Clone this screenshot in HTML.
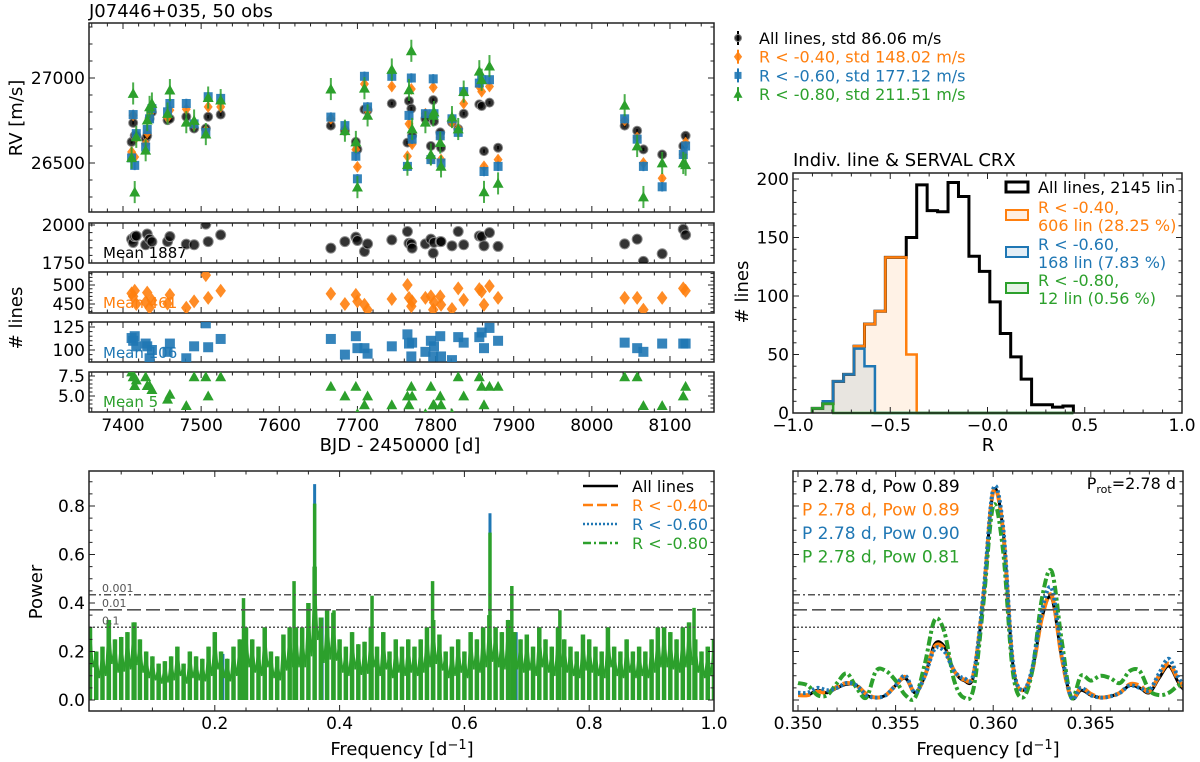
<!DOCTYPE html>
<html><head><meta charset="utf-8"><title>J07446+035 RV chart</title>
<style>
html,body{margin:0;padding:0;background:#fff;}
svg{display:block;font-family:"DejaVu Sans","Liberation Sans",sans-serif;}
</style></head>
<body>
<svg id="fig" width="1200" height="762" viewBox="0 0 1200 762" xmlns="http://www.w3.org/2000/svg">
<text x="89" y="17" font-size="18" fill="#000">J07446+035, 50 obs</text>
<text x="793" y="166" font-size="18" fill="#000">Indiv. line &amp; SERVAL CRX</text>
</svg>
<script>
// ---------------- DATA ----------------
const obsTime = [7411,7413,7415,7417,7429,7431,7434,7437,7457,7460,7481,7491,7506,7509,7525,
 7666,7684,7698,7700,7709,7713,7744,7764,7766,7769,7770,7787,7794,7797,7798,7806,7807,7821,7829,7836,7856,7859,7862,7869,7880,
 8042,8058,8066,8090,8117,8120];
const rvAll = [26624,26736,26660,26660,26644,26660,26760,26800,26752,26760,26772,26703,26703,26772,26785,
 26720,26690,26624,26580,26815,26810,26850,26620,26865,26820,26660,26760,26600,26870,26745,26680,26590,26740,26700,26790,26845,26835,26570,26855,26590,
 26720,26690,26580,26550,26600,26660];
const rvR40 = [26565,26781,26535,26650,26614,26677,26770,26810,26768,26811,26817,26723,26690,26830,26830,
 26760,26700,26579,26477,26965,26810,26950,26540,26730,26935,26610,26790,26520,26945,26790,26650,26520,26740,26700,26850,26950,26920,26480,26950,26520,
 26750,26650,26500,26410,26550,26620];
const rvR60 = [26530,26785,26486,26673,26594,26697,26760,26820,26801,26850,26850,26730,26680,26890,26880,
 26770,26720,26540,26407,27010,26830,27010,26480,26780,27000,26640,26790,26520,26995,26790,26660,26500,26760,26680,26920,26970,26990,26450,26990,26480,
 26760,26640,26480,26360,26550,26600];
const rvR80 = [26531,26909,26329,26654,26575,26752,26830,26850,26791,26929,26740,26750,26670,26885,26870,
 26935,26690,26624,26358,26940,26780,27050,26490,26930,27160,26700,26740,26550,26780,26800,26620,26480,26770,26700,26920,27040,26990,26330,27070,26380,
 26840,26600,26300,26500,26500,26490];
const errAll = 10, errR40 = 18, errR60 = 28, errR80 = 65;
const nAll = [1907,1885,1924,1928,1870,1941,1907,1890,1891,1924,1874,1870,2006,1891,1935,
 1848,1891,1920,1898,1826,1876,1902,1957,1880,1876,1848,1876,1907,1815,1885,1891,1891,1863,1957,1870,1928,1924,1863,1950,1859,
 1876,1907,1761,1811,1972,1935];
const nR40 = [478,470,485,450,455,480,440,460,451,474,440,457,526,466,485,
 477,450,474,457,448,435,463,500,466,444,457,466,470,435,454,470,448,437,491,461,489,483,448,497,466,
 466,466,435,466,491,485];
const nR60 = [113,110,115,104,107,104,91,100,98,107,91,104,129,103,112,
 112,95,115,102,102,96,104,117,107,93,108,98,110,93,104,115,93,89,114,108,114,119,102,124,110,
 108,102,98,107,107,107];
const nR80 = [8.0,7.4,6.3,7.0,7.4,6.3,6.3,5.8,4.6,5.2,3.8,7.4,7.4,5.0,7.4,
 6.2,5.0,6.2,2.8,3.9,5.0,3.9,5.0,3.9,6.2,5.0,2.8,6.2,3.9,3.9,5.0,3.9,2.8,7.4,5.0,7.4,6.2,3.9,6.2,6.2,
 7.4,7.4,3.8,3.8,5.0,6.2];
const meanLabels = ["Mean 1887","Mean 461","Mean 106","Mean 5"];
const rvLegend = ["All lines, std 86.06 m/s","R < -0.40, std 148.02 m/s","R < -0.60, std 177.12 m/s","R < -0.80, std 211.51 m/s"];

// histogram
const binStart = -0.901, binWidth = 0.0537;
const histAll = [4,8,27,33,57,76,87,133,133,150,195,173,172,197,185,134,121,95,68,48,29,7,7,5,6];
const histR40 = [4,8,27,33,57,76,87,133,133,50,0,0,0,0,0,0,0,0,0,0,0,0,0,0,0];
const histR60 = [4,10,27,33,55,40,0,0,0,0,0,0,0,0,0,0,0,0,0,0,0,0,0,0,0];
const histR80 = [4,8,0,0,0,0,0,0,0,0,0,0,0,0,0,0,0,0,0,0,0,0,0,0,0];
const histLegend = [["All lines, 2145 lin"],["R < -0.40,","606 lin (28.25 %)"],["R < -0.60,","168 lin (7.83 %)"],["R < -0.80,","12 lin (0.56 %)"]];

// full periodogram
const gridStep = 0.01;
const powR80Grid = [0.30,0.20,0.22,0.33,0.25,0.26,0.28,0.32,0.25,0.20,0.18,0.15,0.16,0.18,0.22,0.15,0.20,0.18,0.17,0.22,
 0.28,0.20,0.17,0.22,0.25,0.30,0.25,0.22,0.30,0.20,0.18,0.27,0.30,0.30,0.30,0.40,0.55,0.34,0.37,0.36,
 0.25,0.22,0.28,0.23,0.24,0.30,0.22,0.28,0.20,0.25,0.22,0.25,0.22,0.25,0.30,0.33,0.27,0.20,0.22,0.25,
 0.20,0.28,0.25,0.30,0.35,0.30,0.28,0.33,0.28,0.25,0.27,0.22,0.30,0.25,0.22,0.30,0.25,0.22,0.20,0.27,
 0.25,0.22,0.20,0.30,0.22,0.20,0.25,0.20,0.22,0.20,0.25,0.30,0.30,0.28,0.25,0.30,0.32,0.25,0.20,0.22,0.25];
const peakFreq = [0.031,0.072,0.246,0.327,0.360,0.391,0.452,0.549,0.641,0.676,0.753,0.968];
const peakPowR80 = [0.33,0.32,0.42,0.49,0.81,0.37,0.43,0.49,0.69,0.47,0.37,0.38];
const peakFreqR60 = [0.213,0.360,0.372,0.641,0.683];
const peakPowR60 = [0.19,0.89,0.34,0.77,0.28];
const fapLevels = [0.434,0.372,0.30];
const fapLabels = ["0.001","0.01","0.1"];
const lpLegend = ["All lines","R < -0.40","R < -0.60","R < -0.80"];

// zoomed periodogram
const zFreq0 = 0.3500, zStep = 0.0005;
const zAll = [0.02,0.02,0.04,0.03,0.05,0.065,0.06,0.02,0.01,0.02,0.06,0.09,0.03,0.10,0.23,0.22,0.12,0.08,0.10,0.42,0.86,0.70,0.15,0.04,0.12,0.34,0.42,0.18,0.01,0.04,0.02,0.01,0.015,0.03,0.06,0.05,0.03,0.09,0.14,0.07,0.02];
const zR40 = [0.02,0.02,0.035,0.03,0.055,0.07,0.06,0.025,0.01,0.02,0.06,0.095,0.03,0.10,0.22,0.21,0.12,0.085,0.11,0.43,0.86,0.70,0.15,0.04,0.12,0.34,0.43,0.18,0.01,0.05,0.025,0.01,0.015,0.03,0.065,0.06,0.035,0.10,0.15,0.08,0.03];
const zR60 = [0.03,0.03,0.05,0.04,0.05,0.07,0.06,0.02,0.01,0.02,0.06,0.10,0.03,0.10,0.21,0.20,0.12,0.09,0.11,0.44,0.87,0.72,0.16,0.04,0.13,0.37,0.46,0.20,0.01,0.05,0.02,0.01,0.015,0.03,0.06,0.05,0.04,0.11,0.17,0.09,0.04];
const zR80 = [0.07,0.06,0.02,0.02,0.07,0.11,0.05,0.01,0.12,0.12,0.08,0.02,0.01,0.15,0.33,0.28,0.08,0.01,0.05,0.40,0.80,0.62,0.12,0.01,0.12,0.42,0.53,0.25,0.01,0.10,0.08,0.10,0.09,0.07,0.12,0.12,0.04,0.02,0.03,0.06,0.07];
const zLabels = ["P 2.78 d, Pow 0.89","P 2.78 d, Pow 0.89","P 2.78 d, Pow 0.90","P 2.78 d, Pow 0.81"];

// ---------------- DRAWING ----------------
const C = {k:"#000000", o:"#ff7f0e", b:"#1f77b4", g:"#2ca02c"};
const svg = document.getElementById('fig');
const NS = "http://www.w3.org/2000/svg";
const TICK_FS = 17, LABEL_FS = 18;
function mk(tag, attrs, parent){
  const e = document.createElementNS(NS, tag);
  for (const k in attrs) e.setAttribute(k, attrs[k]);
  (parent||svg).appendChild(e);
  return e;
}
function txt(x,y,s,size,fill,anchor,parent){
  const t = mk('text',{x:x,y:y,'font-size':size,fill:fill||'#000','text-anchor':anchor||'start'},parent);
  t.textContent = s; return t;
}
function frame(x0,y0,x1,y1){
  const r = mk('rect',{x:x0,y:y0,width:x1-x0,height:y1-y0,fill:'none',stroke:'#222','stroke-width':1.5});
  
  
}
function xTicks(x0,x1,y0,y1,vmin,vmax,major,minor,map,labels,fmt,labelY){
  const g = mk('g',{stroke:'#222','stroke-width':1});
  
  
  const eps=1e-9;
  for (let v=Math.ceil(vmin/minor-eps)*minor; v<=vmax+eps; v+=minor){
    const x = map(v); if (x<x0-0.5||x>x1+0.5) continue;
    const isMaj = Math.abs(v/major-Math.round(v/major))<1e-6;
    const L = isMaj?6:3.5;
    mk('line',{x1:x,y1:y1,x2:x,y2:y1-L},g);
    mk('line',{x1:x,y1:y0,x2:x,y2:y0+L},g);
    if (isMaj && labels){
      const t = txt(x,labelY,fmt(v),TICK_FS,'#000','middle');
      
      
    }
  }
}
function yTicks(x0,x1,y0,y1,vmin,vmax,major,minor,map,labels,fmt){
  const g = mk('g',{stroke:'#222','stroke-width':1});
  
  
  const eps=1e-9;
  for (let v=Math.ceil(vmin/minor-eps)*minor; v<=vmax+eps; v+=minor){
    const y = map(v); if (y<y0-0.5||y>y1+0.5) continue;
    const isMaj = Math.abs(v/major-Math.round(v/major))<1e-6;
    const L = isMaj?6:3.5;
    mk('line',{x1:x0,y1:y,x2:x0+L,y2:y},g);
    mk('line',{x1:x1,y1:y,x2:x1-L,y2:y},g);
    if (isMaj && labels){
      const t = txt(x0-4,y+6,fmt(v),TICK_FS,'#000','end');
      
      
    }
  }
}
function marker(shape,x,y,s,color,parent){
  let e;
  if (shape==='o') e = mk('circle',{cx:x,cy:y,r:s,fill:color,'fill-opacity':0.8,stroke:'#888','stroke-width':1},parent);
  else if (shape==='d') e = mk('polygon',{points:`${x},${y-s} ${x+s*0.75},${y} ${x},${y+s} ${x-s*0.75},${y}`,fill:color,'fill-opacity':0.9},parent);
  else if (shape==='s') e = mk('rect',{x:x-s,y:y-s,width:2*s,height:2*s,fill:color,'fill-opacity':0.9},parent);
  else e = mk('polygon',{points:`${x},${y-s} ${x+s},${y+s*0.8} ${x-s},${y+s*0.8}`,fill:color},parent);
  return e;
}

// ===== RV panel =====
const RV = {x0:89,x1:714,y0:23,y1:212};
const tx = t => 123 + (t-7400)*0.7814;
const ry = v => 78 + (27000-v)*0.17;
frame(RV.x0,RV.y0,RV.x1,RV.y1);
xTicks(RV.x0,RV.x1,RV.y0,RV.y1,7340,8160,100,20,tx,false);
yTicks(RV.x0,RV.x1,RV.y0,RV.y1,26200,27330,500,100,ry,true,v=>String(v));
const yl = txt(0,0,'RV [m/s]',LABEL_FS,'#000','middle');
yl.setAttribute('transform','translate(22,118) rotate(-90)');



const rvSeries = [[rvAll,errAll,C.k,'o',4.5],[rvR40,errR40,C.o,'d',6],[rvR60,errR60,C.b,'s',4.5],[rvR80,errR80,C.g,'^',5.5]];
const rvNames = ['rv-all-lines','rv-r-040','rv-r-060','rv-r-080'];
rvSeries.forEach((s,si)=>{
  const g = mk('g',{});
  
  
  s[0].forEach((v,i)=>{
    const x = tx(obsTime[i]);
    const eb = mk('line',{x1:x,x2:x,y1:ry(v+s[1]),y2:ry(v-s[1]),stroke:s[2],'stroke-width':2,'stroke-opacity':0.85},g);
    
    
    const m = marker(s[3],x,ry(v),s[4],s[2],g);
    
    
  });
});
const legShapes = [['o',C.k,3.5],['d',C.o,5.5],['s',C.b,3.5],['^',C.g,4.5]];
rvLegend.forEach((s,i)=>{
  const y = 38 + i*18.7;
  const g = mk('g',{});
  
  
  mk('line',{x1:738,x2:738,y1:y-7,y2:y+7,stroke:legShapes[i][1],'stroke-width':2},g);
  marker(legShapes[i][0],738,y,legShapes[i][2],legShapes[i][1],g);
  txt(759,y+6,s,16,i===0?'#000':legShapes[i][1],'start',g);
});

// ===== sub panels (# lines) =====
const subs = [
  {y0:223,y1:263,map:v=>225+(2000-v)*(38/250),vmin:1740,vmax:2010,maj:250,min:50,data:nAll,c:C.k,sh:'o',s:5,fmt:v=>String(v),ly:258},
  {y0:272,y1:313,map:v=>285+(500-v)*0.38,vmin:420,vmax:540,maj:50,min:10,data:nR40,c:C.o,sh:'d',s:7,fmt:v=>String(v),ly:308},
  {y0:322,y1:362,map:v=>327+(125-v)*0.92,vmin:85,vmax:131,maj:25,min:5,data:nR60,c:C.b,sh:'s',s:5,fmt:v=>String(v),ly:358},
  {y0:372,y1:412,map:v=>376+(7.5-v)*8,vmin:2.5,vmax:8.2,maj:2.5,min:0.5,data:nR80,c:C.g,sh:'^',s:5.5,fmt:v=>v.toFixed(1),ly:407}
];
const subNames = ['nlines-all','nlines-r-040','nlines-r-060','nlines-r-080'];
subs.forEach((p,pi)=>{
  frame(RV.x0,p.y0,RV.x1,p.y1);
  xTicks(RV.x0,RV.x1,p.y0,p.y1,7340,8160,100,20,tx,pi===3,v=>String(v),431);
  yTicks(RV.x0,RV.x1,p.y0,p.y1,p.vmin,p.vmax,p.maj,p.min,p.map,true,p.fmt);
  const ml = txt(103,p.ly,meanLabels[pi],15,p.c,'start');
  
  
  const cp = mk('clipPath',{id:'clip'+pi});
  mk('rect',{x:RV.x0,y:p.y0,width:RV.x1-RV.x0,height:p.y1-p.y0},cp);
  const g = mk('g',{'clip-path':'url(#clip'+pi+')'});
  
  
  p.data.forEach((v,i)=>{
    const m = marker(p.sh,tx(obsTime[i]),p.map(v),p.s,p.c,g);
    
    
  });
});
const nl = txt(0,0,'# lines',LABEL_FS,'#000','middle');
nl.setAttribute('transform','translate(22,318) rotate(-90)');


const bx = txt(400,451,'BJD - 2450000 [d]',LABEL_FS,'#000','middle');



// ===== Histogram =====
const H = {x0:793,x1:1182,y0:173,y1:413};
const hx = r => 793 + (r+1)*194.5;
const hy = c => 413 - c*1.17;
function stepPath(counts, closeFill){
  let d = `M${hx(binStart)},${hy(0)}`;
  counts.forEach((c,i)=>{
    const a = binStart+i*binWidth, b = a+binWidth;
    d += ` L${hx(a)},${hy(c)} L${hx(b)},${hy(c)}`;
  });
  d += ` L${hx(binStart+counts.length*binWidth)},${hy(0)}`;
  if (closeFill) d += ' Z';
  return d;
}
const histSet = [[histR40,C.o,'hist-r-040'],[histR60,C.b,'hist-r-060'],[histR80,C.g,'hist-r-080']];
histSet.forEach(h=>{
  const f = mk('path',{d:stepPath(h[0],true),fill:h[1],'fill-opacity':0.1,stroke:'none'});
  
  
});
const ha = mk('path',{d:stepPath(histAll,false),fill:'none',stroke:'#000','stroke-width':3});


histSet.forEach(h=>{
  const p = mk('path',{d:stepPath(h[0],false),fill:'none',stroke:h[1],'stroke-width':2.5});
  
  
});
frame(H.x0,H.y0,H.x1,H.y1);
xTicks(H.x0,H.x1,H.y0,H.y1,-1,1,0.5,0.1,hx,true,v=>{const s=v.toFixed(1);return s.replace('-','\u2212');},431);
yTicks(H.x0,H.x1,H.y0,H.y1,0,205,50,10,hy,true,v=>String(Math.round(v)));
const hyl = txt(0,0,'# lines',LABEL_FS,'#000','middle');
hyl.setAttribute('transform','translate(748,292) rotate(-90)');


const hxl = txt(988,451,'R',LABEL_FS,'#000','middle');


const hlCol = [C.k,C.o,C.b,C.g];
const hlY = [187,215,252,288];
histLegend.forEach((lines,i)=>{
  const g = mk('g',{});
  
  
  const y = hlY[i];
  mk('rect',{x:1006,y:y-5,width:22,height:10,fill:i===0?'none':hlCol[i],'fill-opacity':0.12,stroke:hlCol[i],'stroke-width':i===0?3:2},g);
  if (lines.length===1) txt(1038,y+6,lines[0],16,hlCol[i],'start',g);
  else { txt(1038,y-2,lines[0],16,hlCol[i],'start',g); txt(1038,y+16,lines[1],16,hlCol[i],'start',g); }
});

// ===== Full periodogram =====
const L = {x0:89,x1:714,y0:471,y1:711};
const px = f => 90 + f*624;
const py = p => 700 - p*242.5;
const cpl = mk('clipPath',{id:'clipL'});
mk('rect',{x:L.x0,y:L.y0,width:L.x1-L.x0,height:L.y1-L.y0},cpl);
const lg = mk('g',{'clip-path':'url(#clipL)'});


peakFreqR60.forEach((f,i)=>{
  const l = mk('line',{x1:px(f),x2:px(f),y1:py(0),y2:py(peakPowR60[i]),stroke:C.b,'stroke-width':3},lg);
  
  
});
powR80Grid.forEach((p,i)=>{
  const f = i*gridStep;
  const l = mk('line',{x1:px(f),x2:px(f),y1:py(0),y2:py(p),stroke:C.g,'stroke-width':4.5},lg);
  
  
});
let env = `M${px(0)},${py(0)}`;
powR80Grid.forEach((p,i)=>{ env += ` L${px(i*gridStep)},${py(p)} L${px(i*gridStep+gridStep/2)},${py(p*0.45)}`; });
const envP = mk('path',{d:env,fill:'none',stroke:C.g,'stroke-width':1.5},lg);


peakFreq.forEach((f,i)=>{
  const l = mk('line',{x1:px(f),x2:px(f),y1:py(0),y2:py(peakPowR80[i]),stroke:C.g,'stroke-width':3.5},lg);
  
  
});
const fapDash = ['7,3,2,3','14,5','2,2'];
fapLevels.forEach((v,i)=>{
  const l = mk('line',{x1:L.x0,x2:L.x1,y1:py(v),y2:py(v),stroke:'#555','stroke-width':1.6,'stroke-dasharray':fapDash[i]});
  
  
  const t = txt(102,py(v)-3,fapLabels[i],11,'#555','start');
  
  
});
frame(L.x0,L.y0,L.x1,L.y1);
xTicks(L.x0,L.x1,L.y0,L.y1,0.05,1,0.2,0.05,px,true,v=>v.toFixed(1),729);
yTicks(L.x0,L.x1,L.y0,L.y1,0,0.92,0.2,0.05,py,true,v=>v.toFixed(1));
const pyl = txt(0,0,'Power',LABEL_FS,'#000','middle');
pyl.setAttribute('transform','translate(42,592) rotate(-90)');


const pxl = mk('text',{x:402,y:755,'font-size':LABEL_FS,'text-anchor':'middle'});
pxl.innerHTML = 'Frequency [d<tspan dy="-6" font-size="13">\u22121</tspan><tspan dy="6">]</tspan>';


const llDash = [null,'10,4','2,2','8,3,2,3'];
const llCol = [C.k,C.o,C.b,C.g];
lpLegend.forEach((s,i)=>{
  const y = 486 + i*19;
  const g = mk('g',{});
  
  
  const a = {x1:583,x2:618,y1:y,y2:y,stroke:llCol[i],'stroke-width':2.5};
  if (llDash[i]) a['stroke-dasharray']=llDash[i];
  mk('line',a,g);
  txt(632,y+6,s,16,i===0?'#000':llCol[i],'start',g);
});

// ===== Zoomed periodogram =====
const Z = {x0:793,x1:1183,y0:471,y1:711};
const qx = f => 798 + (f-0.35)*19520;
function smooth(vals){
  const pts = vals.map((v,i)=>[qx(zFreq0+i*zStep),py(v)]);
  let d = `M${pts[0][0]},${pts[0][1]}`;
  for (let i=0;i<pts.length-1;i++){
    const p0=pts[Math.max(0,i-1)],p1=pts[i],p2=pts[i+1],p3=pts[Math.min(pts.length-1,i+2)];
    const c1=[p1[0]+(p2[0]-p0[0])/6,p1[1]+(p2[1]-p0[1])/6];
    const c2=[p2[0]-(p3[0]-p1[0])/6,p2[1]-(p3[1]-p1[1])/6];
    d += ` C${c1[0]},${c1[1]} ${c2[0]},${c2[1]} ${p2[0]},${p2[1]}`;
  }
  return d;
}
const cpz = mk('clipPath',{id:'clipZ'});
mk('rect',{x:Z.x0,y:Z.y0,width:Z.x1-Z.x0,height:Z.y1-Z.y0},cpz);
const zg = mk('g',{'clip-path':'url(#clipZ)'});


const zSeries = [[zAll,C.k,null,3,'zoom-power-all'],[zR40,C.o,'12,4',4,'zoom-power-r-040'],[zR80,C.g,'9,3,3,3',4,'zoom-power-r-080'],[zR60,C.b,'2.5,2.5',4,'zoom-power-r-060']];
zSeries.forEach(s=>{
  const a = {d:smooth(s[0]),fill:'none',stroke:s[1],'stroke-width':s[3]};
  if (s[2]) a['stroke-dasharray']=s[2];
  const p = mk('path',a,zg);
  
  
});
fapLevels.forEach((v,i)=>{
  const l = mk('line',{x1:Z.x0,x2:Z.x1,y1:py(v),y2:py(v),stroke:'#555','stroke-width':1.6,'stroke-dasharray':fapDash[i]});
  
  
});
frame(Z.x0,Z.y0,Z.x1,Z.y1);
xTicks(Z.x0,Z.x1,Z.y0,Z.y1,0.349,0.3698,0.005,0.001,qx,true,v=>v.toFixed(3),729);
yTicks(Z.x0,Z.x1,Z.y0,Z.y1,0,0.92,0.2,0.05,py,false);
const zxl = mk('text',{x:988,y:755,'font-size':LABEL_FS,'text-anchor':'middle'});
zxl.innerHTML = 'Frequency [d<tspan dy="-6" font-size="13">\u22121</tspan><tspan dy="6">]</tspan>';


zLabels.forEach((s,i)=>{
  const t = txt(802,492+i*23.5,s,17,llCol[i],'start');
  
  
});
const pr = mk('text',{x:1176,y:489,'font-size':16,'text-anchor':'end'});
pr.innerHTML = 'P<tspan dy="4" font-size="11">rot</tspan><tspan dy="-4">=2.78 d</tspan>';


</script>
</body></html>
